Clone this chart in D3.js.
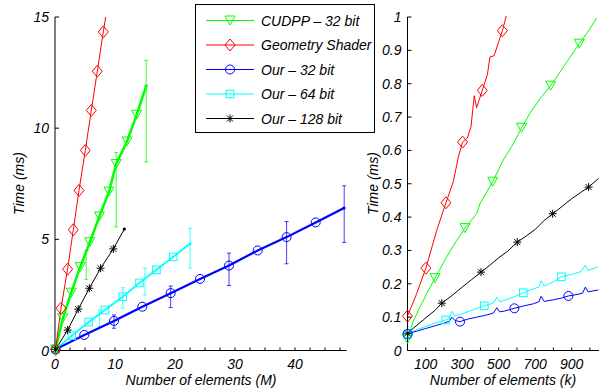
<!DOCTYPE html>
<html>
<head>
<meta charset="utf-8">
<script src="https://cdn.jsdelivr.net/npm/d3@7"></script>
<style>
  body { margin: 0; background: #fff; }
  svg text { font-family: "Liberation Sans", Arial, sans-serif; font-style: italic; font-size: 14px; fill: #000; }
</style>
</head>
<body>
<div id="chart"></div>
<script>
// ---- left panel: time (ms) vs number of elements (M) ----
const leftRedM   = [0.1, 1.0, 2.1, 3.05, 4.0, 5.05, 6.05, 7.05, 8.05, 8.45];
const leftRedT   = [0.05, 1.9, 3.66, 5.43, 7.2, 9.0, 10.8, 12.56, 14.33, 15.0];
const leftGreenM = [0.1, 1.3, 2.7, 4.2, 5.8, 7.4, 9.0, 10.2, 12.0, 13.6, 15.2];
const leftGreenT = [0.05, 1.45, 2.6, 3.75, 4.87, 6.03, 7.15, 8.39, 9.4, 10.6, 11.9];
const leftBlueM  = [0.1, 4.88, 9.83, 14.55, 19.28, 24.17, 29.0, 33.78, 38.6, 43.45, 48.17];
const leftBlueT  = [0.05, 0.7, 1.33, 1.97, 2.58, 3.22, 3.82, 4.5, 5.1, 5.76, 6.41];
const leftCyanM  = [0.1, 2.8, 5.63, 8.33, 11.28, 14.08, 16.9, 19.7, 22.5];
const leftCyanT  = [0.05, 0.67, 1.28, 1.82, 2.42, 3.04, 3.63, 4.21, 4.8];
const leftBlackM = [0.1, 2.1, 3.88, 5.72, 7.6, 9.72, 11.55];
const leftBlackT = [0.05, 0.92, 1.86, 2.8, 3.7, 4.57, 5.46];

// error bars [M, low, high]
const leftGreenErr = [[5.2, 3.2, 4.5], [10.2, 5.56, 8.9], [15.2, 8.48, 13.05]];
const leftCyanErr  = [[7.4, 1.07, 1.82], [11.3, 1.91, 2.82], [15.0, 2.5, 3.7], [22.5, 3.7, 5.5]];
const leftBlueErr  = [[9.83, 1.0, 1.6], [19.28, 1.93, 2.9], [29.0, 2.92, 4.38], [38.6, 3.9, 5.8], [48.2, 4.86, 7.41]];

const leftXTicks = [0, 10, 20, 30, 40];
const leftYTicks = [0, 5, 10, 15];

// ---- right panel: time (ms) vs number of elements (k) ----
const rightRedK   = [0, 50, 101, 160, 211, 251, 279, 302, 328, 348, 366, 379, 410, 438, 452, 475, 520, 545];
const rightRedT   = [0.103, 0.17, 0.247, 0.36, 0.443, 0.506, 0.58, 0.625, 0.637, 0.671, 0.764, 0.728, 0.78, 0.827, 0.88, 0.884, 0.959, 1.01];
const rightGreenK = [0, 30, 69, 110, 151, 215, 270, 315, 379, 397, 467, 525, 571, 626, 672, 736, 785, 845, 882, 942, 982, 1037];
const rightGreenT = [0.035, 0.085, 0.131, 0.175, 0.217, 0.281, 0.33, 0.367, 0.41, 0.44, 0.506, 0.571, 0.611, 0.668, 0.712, 0.762, 0.794, 0.842, 0.872, 0.92, 0.95, 0.997];
const rightBlackK = [0, 87, 150, 188, 240, 300, 350, 403, 450, 500, 550, 602, 650, 700, 750, 796, 850, 900, 950, 993, 1046];
const rightBlackT = [0.052, 0.092, 0.12, 0.142, 0.163, 0.19, 0.212, 0.235, 0.255, 0.278, 0.298, 0.325, 0.343, 0.363, 0.39, 0.41, 0.433, 0.455, 0.474, 0.49, 0.515];
const rightCyanK  = [0, 50, 100, 150, 209, 230, 243, 260, 300, 350, 421, 470, 490, 505, 540, 580, 635, 690, 720, 732, 750, 800, 844, 900, 950, 975, 990, 1046];
const rightCyanT  = [0.05, 0.062, 0.072, 0.082, 0.0915, 0.097, 0.118, 0.104, 0.11, 0.12, 0.134, 0.142, 0.16, 0.146, 0.152, 0.16, 0.173, 0.185, 0.19, 0.209, 0.193, 0.206, 0.221, 0.228, 0.236, 0.256, 0.24, 0.251];
const rightBlueK  = [0, 50, 100, 150, 200, 230, 243, 260, 288, 330, 380, 430, 470, 490, 505, 530, 586, 640, 690, 720, 732, 750, 800, 850, 882, 930, 960, 975, 990, 1046];
const rightBlueT  = [0.05, 0.058, 0.066, 0.074, 0.082, 0.088, 0.1, 0.09, 0.0865, 0.094, 0.1, 0.106, 0.112, 0.128, 0.116, 0.118, 0.1265, 0.134, 0.14, 0.146, 0.162, 0.147, 0.152, 0.158, 0.1635, 0.168, 0.172, 0.19, 0.176, 0.1815];

const rightRedMarkK   = [0, 101, 211, 302, 410, 520];
const rightRedMarkT   = [0.103, 0.247, 0.443, 0.625, 0.78, 0.959];
const rightGreenMarkK = [0, 151, 315, 467, 626, 785, 942];
const rightGreenMarkT = [0.035, 0.217, 0.367, 0.506, 0.668, 0.794, 0.92];
const rightBlackMarkK = [0, 188, 403, 602, 796, 993];
const rightBlackMarkT = [0.052, 0.142, 0.235, 0.325, 0.41, 0.49];
const rightCyanMarkK  = [0, 209, 421, 635, 844];
const rightCyanMarkT  = [0.047, 0.0915, 0.134, 0.173, 0.221];
const rightBlueMarkK  = [0, 288, 586, 882];
const rightBlueMarkT  = [0.0495, 0.0865, 0.1265, 0.1635];

const rightXTicks = [0, 100, 200, 300, 400, 500, 600, 700, 800, 900, 1000];
const rightXLabels = [100, 300, 500, 700, 900];
const rightYTicks = [0, 0.1, 0.2, 0.3, 0.4, 0.5, 0.6, 0.7, 0.8, 0.9, 1];

const legendLabels = ['CUDPP \u2013 32 bit', 'Geometry Shader', 'Our \u2013 32 bit', 'Our \u2013 64 bit', 'Our \u2013 128 bit'];
const legendSymbols = ['triangle', 'diamond', 'circle', 'square', 'asterisk'];
const legendColors = ['#00ff00', '#ff0000', '#0000ff', '#00ffff', '#000000'];

const zip = (a, b) => a.map((v, i) => [v, b[i]]);

const width = 599, height = 389;
const svg = d3.select('#chart').append('svg')
  .attr('width', width)
  .attr('height', height);

// marker drawing
function marker(g, type, x, y, color) {
  const m = g.append('g').attr('transform', `translate(${x},${y})`)
    .attr('fill', 'none').attr('stroke', color).attr('stroke-width', 1);
  if (type === 'circle') m.append('circle').attr('r', 4.5);
  else if (type === 'square') m.append('rect').attr('x', -3.8).attr('y', -3.8).attr('width', 7.6).attr('height', 7.6);
  else if (type === 'diamond') m.append('path').attr('d', 'M0,-6L5,0L0,6L-5,0Z');
  else if (type === 'triangle') m.append('path').attr('d', 'M-5,-4.5L5,-4.5L0,4.5Z');
  else if (type === 'asterisk') {
    m.append('path').attr('d', 'M-4,0L4,0M0,-4L0,4M-3,-3L3,3M-3,3L3,-3');
  }
}

function panel(cfg) {
  const x = d3.scaleLinear().domain(cfg.xDomain).range(cfg.xRange);
  const y = d3.scaleLinear().domain(cfg.yDomain).range([350.5, 17]);
  const g = svg.append('g');
  const clipId = 'clip' + cfg.id;
  svg.append('clipPath').attr('id', clipId).append('rect')
    .attr('x', cfg.xRange[0]).attr('y', 16).attr('width', cfg.xRange[1] - cfg.xRange[0] + 2).attr('height', 340);

  // axes (inward ticks)
  const xAxis = g.append('g').attr('transform', 'translate(0,350.5)');
  xAxis.append('line').attr('x1', cfg.xRange[0]).attr('x2', cfg.xRange[1]).attr('stroke', '#000');
  xAxis.selectAll('.mt').data(cfg.xMinor).enter().append('line')
    .attr('x1', d => x(d)).attr('x2', d => x(d)).attr('y1', 0).attr('y2', -3).attr('stroke', '#000');
  xAxis.selectAll('.lab').data(cfg.xLabels).enter().append('text')
    .attr('x', d => x(d)).attr('y', 18).attr('text-anchor', 'middle').text(d => d);

  const yAxis = g.append('g').attr('transform', `translate(${cfg.xRange[0]},0)`);
  yAxis.append('line').attr('y1', y(cfg.yDomain[0])).attr('y2', y(cfg.yDomain[1])).attr('stroke', '#000');
  yAxis.selectAll('.yt').data(cfg.yTicks).enter().append('line')
    .attr('x1', 0).attr('x2', 4).attr('y1', d => y(d)).attr('y2', d => y(d)).attr('stroke', '#000');
  yAxis.selectAll('.lab').data(cfg.yTicks).enter().append('text')
    .attr('x', -6).attr('y', d => y(d) + 5).attr('text-anchor', 'end').text(cfg.yFormat);

  g.append('text').attr('x', cfg.xTitleX).attr('y', 385).attr('text-anchor', 'middle').text(cfg.xTitle);
  g.append('text').attr('transform', `translate(${cfg.yTitleX},183.5) rotate(-90)`)
    .attr('text-anchor', 'middle').text('Time (ms)');

  const plot = g.append('g').attr('clip-path', `url(#${clipId})`);
  const line = d3.line().x(d => x(d[0])).y(d => y(d[1]));
  cfg.series.forEach(s => {
    (s.err || []).forEach(e => {
      const eg = plot.append('g').attr('stroke', s.color).attr('stroke-opacity', 0.75).attr('stroke-width', 1);
      eg.append('line').attr('x1', x(e[0])).attr('x2', x(e[0])).attr('y1', y(e[1])).attr('y2', y(e[2]));
      eg.append('line').attr('x1', x(e[0]) - 2).attr('x2', x(e[0]) + 2).attr('y1', y(e[1])).attr('y2', y(e[1]));
      eg.append('line').attr('x1', x(e[0]) - 2).attr('x2', x(e[0]) + 2).attr('y1', y(e[2])).attr('y2', y(e[2]));
    });
    plot.append('path').datum(s.data).attr('d', line)
      .attr('fill', 'none').attr('stroke', s.color).attr('stroke-width', s.width || 1)
      .attr('stroke-linejoin', 'round');
    if (s.endDot) {
      const last = s.data[s.data.length - 1];
      plot.append('circle').attr('cx', x(last[0])).attr('cy', y(last[1])).attr('r', 1.6).attr('fill', s.color);
    }
  });
  cfg.series.forEach(s => {
    s.marks.forEach(p => marker(g, s.symbol, x(p[0]), y(p[1]), s.color));
  });
}

panel({
  id: 'L',
  xDomain: [0, 48.6], xRange: [55, 346.6],
  yDomain: [0, 15],
  xMinor: d3.range(0, 48.6, 2.5),
  xLabels: leftXTicks,
  yTicks: leftYTicks,
  yFormat: d => d,
  xTitle: 'Number of elements (M)', xTitleX: 201,
  yTitleX: 24,
  series: [
    { color: '#00ffff', width: 1.8, symbol: 'square', data: zip(leftCyanM, leftCyanT), marks: zip(leftCyanM, leftCyanT).slice(0, -1), err: leftCyanErr, endDot: true },
    { color: '#0000ff', width: 2.2, symbol: 'circle', data: zip(leftBlueM, leftBlueT), marks: zip(leftBlueM, leftBlueT).slice(0, -1), err: leftBlueErr, endDot: true },
    { color: '#000000', width: 1, symbol: 'asterisk', data: zip(leftBlackM, leftBlackT), marks: zip(leftBlackM, leftBlackT).slice(0, -1), endDot: true },
    { color: '#00ff00', width: 2.5, symbol: 'triangle', data: zip(leftGreenM, leftGreenT), marks: zip(leftGreenM, leftGreenT).slice(0, -1), err: leftGreenErr, endDot: true },
    { color: '#ff0000', width: 1, symbol: 'diamond', data: zip(leftRedM, leftRedT), marks: zip(leftRedM, leftRedT).slice(0, -1) }
  ]
});

panel({
  id: 'R',
  xDomain: [0, 1050], xRange: [407.5, 599],
  yDomain: [0, 1],
  xMinor: rightXTicks,
  xLabels: rightXLabels,
  yTicks: rightYTicks,
  yFormat: d => (d === 0 || d === 1) ? d : d.toFixed(1),
  xTitle: 'Number of elements (k)', xTitleX: 503,
  yTitleX: 378,
  series: [
    { color: '#ff0000', symbol: 'diamond', data: zip(rightRedK, rightRedT), marks: zip(rightRedMarkK, rightRedMarkT) },
    { color: '#00ff00', symbol: 'triangle', data: zip(rightGreenK, rightGreenT), marks: zip(rightGreenMarkK, rightGreenMarkT) },
    { color: '#000000', symbol: 'asterisk', data: zip(rightBlackK, rightBlackT), marks: zip(rightBlackMarkK, rightBlackMarkT) },
    { color: '#00ffff', symbol: 'square', data: zip(rightCyanK, rightCyanT), marks: zip(rightCyanMarkK, rightCyanMarkT) },
    { color: '#0000ff', symbol: 'circle', data: zip(rightBlueK, rightBlueT), marks: zip(rightBlueMarkK, rightBlueMarkT) }
  ]
});

// legend
const legend = svg.append('g');
legend.append('rect').attr('x', 195.5).attr('y', 4.5).attr('width', 179).attr('height', 128)
  .attr('fill', '#fff').attr('stroke', '#000');
const ly = d3.scalePoint().domain(legendLabels).range([20.5, 118.5]);
legendLabels.forEach((lab, i) => {
  const yy = ly(lab);
  legend.append('line').attr('x1', 206).attr('x2', 254).attr('y1', yy).attr('y2', yy)
    .attr('stroke', legendColors[i]);
  marker(legend, legendSymbols[i], 230, yy, legendColors[i]);
  legend.append('text').attr('x', 261).attr('y', yy + 5).text(lab);
});
</script>
</body>
</html>
